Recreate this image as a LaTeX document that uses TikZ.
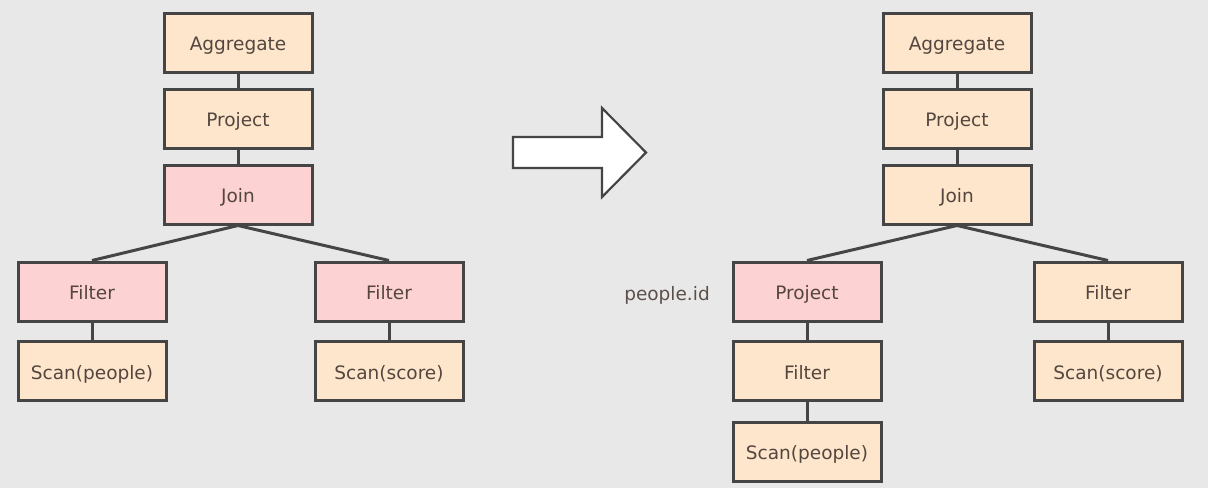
\documentclass[tikz,border=0pt]{standalone}
\usepackage{fontspec}
\setmainfont{DejaVu Sans}
\definecolor{bgc}{HTML}{E8E8E9}
\definecolor{peach}{HTML}{FDE6CB}
\definecolor{rose}{HTML}{FDD2D2}
\definecolor{edge}{HTML}{454545}
\definecolor{txt}{HTML}{54463F}
\begin{document}
\begin{tikzpicture}[x=1pt,y=-1pt,
  op/.style={draw=edge, line width=3pt, minimum width=148pt, minimum height=59pt,
    inner sep=0pt, text=txt, text height=16pt, text depth=0pt,
    font=\fontsize{18.5}{20}\selectfont},
  plain/.style={op, fill=peach},
  hot/.style={op, fill=rose},
  link/.style={draw=edge, line width=3pt}]
\useasboundingbox (0,0) rectangle (1208,488);
\fill[bgc] (0,0) rectangle (1208,488);

% plan before the rewrite
\node[plain] (la) at (238,42.5) {Aggregate};
\node[plain] (lp) at (238,118.5) {Project};
\node[hot]   (lj) at (238,194.5) {Join};
\node[hot]   (lf1) at (92,291.5) {Filter};
\node[plain] (ls1) at (92,371) {Scan(people)};
\node[hot]   (lf2) at (389,291.5) {Filter};
\node[plain] (ls2) at (389,371) {Scan(score)};
\draw[link] (la) -- (lp);
\draw[link] (lp) -- (lj);
\draw[link] (lj.south) -- (lf1.north);
\draw[link] (lj.south) -- (lf2.north);
\draw[link] (lf1) -- (ls1);
\draw[link] (lf2) -- (ls2);

% rewrite arrow
\draw[draw=edge, line width=2.2pt, fill=white, line join=miter]
  (513,137) -- (602,137) -- (602,108) -- (646,152.5) -- (602,197) -- (602,168) -- (513,168) -- cycle;

% plan after the rewrite
\node[plain] (ra) at (957,42.5) {Aggregate};
\node[plain] (rp) at (957,118.5) {Project};
\node[plain] (rj) at (957,194.5) {Join};
\node[hot]   (rq) at (807,291.5) {Project};
\node[plain] (rf1) at (807,371) {Filter};
\node[plain] (rs1) at (807,451.5) {Scan(people)};
\node[plain] (rf2) at (1108,291.5) {Filter};
\node[plain] (rs2) at (1108,371) {Scan(score)};
\draw[link] (ra) -- (rp);
\draw[link] (rp) -- (rj);
\draw[link] (rj.south) -- (rq.north);
\draw[link] (rj.south) -- (rf2.north);
\draw[link] (rq) -- (rf1);
\draw[link] (rf1) -- (rs1);
\draw[link] (rf2) -- (rs2);

\node[text=txt!85!gray, text height=16pt, text depth=0pt, inner sep=0pt,
  font=\fontsize{18.5}{20}\selectfont] (pid) at (667,292) {people.id};
\end{tikzpicture}
\end{document}
